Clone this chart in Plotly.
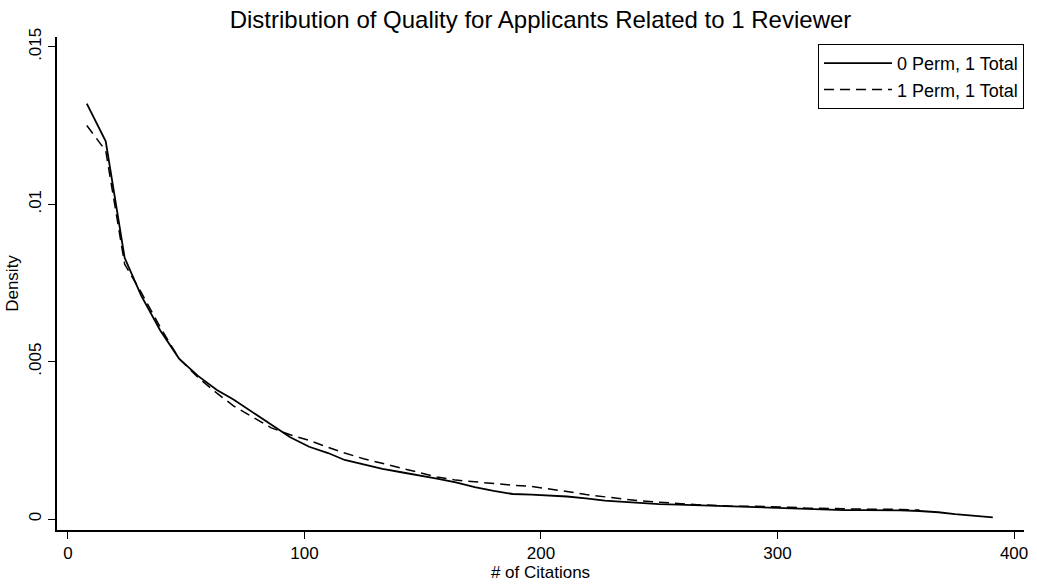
import plotly.graph_objects as go

citations = [8, 16, 24, 31, 39, 47, 55, 63, 70, 78, 86, 94, 102, 110, 117, 125, 133, 141,
             149, 156, 164, 172, 180, 188, 196, 203, 211, 219, 227, 235, 242, 250, 258, 266,
             274, 282, 289, 297, 305, 313, 321, 328, 336, 344, 352, 360, 368, 375, 383, 391]

density_0perm = [0.0132, 0.0120, 0.0083, 0.0071, 0.0060, 0.0051, 0.00455, 0.0041, 0.0038, 0.0034,
                 0.0030, 0.0026, 0.0023, 0.0021, 0.00188, 0.00173, 0.00160, 0.00149, 0.00139, 0.00129,
                 0.00117, 0.00102, 0.00090, 0.00080, 0.00078, 0.00076, 0.00072, 0.00066, 0.00059, 0.00055,
                 0.00051, 0.00048, 0.00046, 0.00044, 0.00042, 0.00040, 0.00040, 0.00038, 0.00036, 0.00033,
                 0.00030, 0.00029, 0.00029, 0.00029, 0.00028, 0.00026, 0.00022, 0.00016, 0.00011, 0.00006]

citations_1perm = citations[:46]
density_1perm = [0.0125, 0.0117, 0.0081, 0.0072, 0.0061, 0.0051, 0.0045, 0.0040, 0.0036, 0.00325,
                 0.0029, 0.00268, 0.0025, 0.00228, 0.0021, 0.00192, 0.00177, 0.00162, 0.00148, 0.00134,
                 0.00124, 0.00118, 0.00114, 0.00108, 0.00104, 0.00097, 0.00088, 0.00078, 0.00070, 0.00064,
                 0.00058, 0.00053, 0.00050, 0.00046, 0.00043, 0.00041, 0.00041, 0.00040, 0.00038, 0.00035,
                 0.00033, 0.00033, 0.00032, 0.00032, 0.00031, 0.00029]

x_ticks = [0, 100, 200, 300, 400]
y_ticks = [0, 0.005, 0.01, 0.015]
y_tick_labels = ["0", ".005", ".01", ".015"]

FONT = "Liberation Sans, Arial, Helvetica, sans-serif"

fig = go.Figure()
fig.add_trace(go.Scatter(x=citations, y=density_0perm, mode="lines",
                         name="0 Perm, 1 Total",
                         line=dict(color="black", width=1.8)))
fig.add_trace(go.Scatter(x=citations_1perm, y=density_1perm, mode="lines",
                         name="1 Perm, 1 Total",
                         line=dict(color="black", width=1.5, dash="10px,6px")))

fig.update_layout(
    width=1037, height=587,
    margin=dict(l=57, r=9, t=37, b=50),
    paper_bgcolor="white", plot_bgcolor="white",
    font=dict(family=FONT, color="black", size=16),
    title=dict(text="Distribution of Quality for Applicants Related to 1 Reviewer",
               x=0.5, xref="paper", xanchor="center", y=0.966, yanchor="middle",
               font=dict(size=24, color="black")),
    showlegend=True,
    legend=dict(x=1, xanchor="right", y=0.986, yanchor="top",
                bordercolor="black", borderwidth=1, bgcolor="white",
                font=dict(size=18), itemwidth=68, tracegroupgap=0),
    xaxis=dict(range=[-4.6, 404.2], tickvals=x_ticks, ticks="outside", ticklen=7,
               tickcolor="black", showline=True, linecolor="black", linewidth=1.5,
               showgrid=False, zeroline=False, mirror=False,
               tickfont=dict(size=17),
               title=dict(text="# of Citations", font=dict(size=17), standoff=3)),
    yaxis=dict(range=[-0.000344, 0.015313], tickvals=y_ticks, ticktext=y_tick_labels,
               tickangle=-90, ticks="outside", ticklen=7, tickcolor="black",
               showline=True, linecolor="black", linewidth=1.5,
               showgrid=False, zeroline=False,
               tickfont=dict(size=17),
               title=dict(text="Density", font=dict(size=17), standoff=4)),
)

fig.write_html("out.html")
